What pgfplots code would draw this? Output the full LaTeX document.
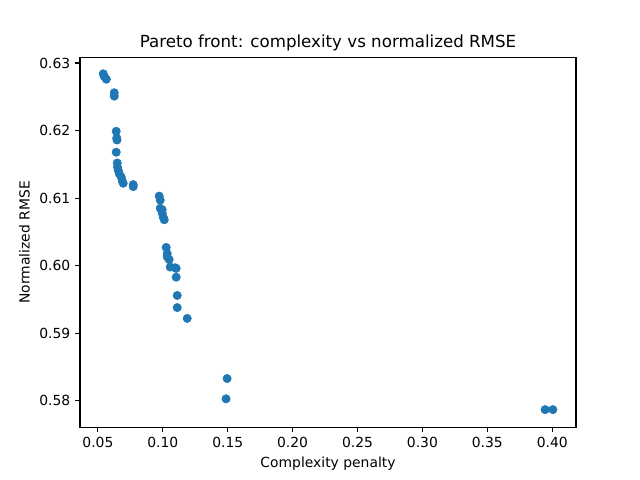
\documentclass[border=0pt]{standalone}
\usepackage{fontspec}
\setmainfont{DejaVu Sans}
\usepackage{pgfplots}
\pgfplotsset{compat=1.18}
\definecolor{mplblue}{HTML}{1F77B4}
\begin{document}
\begin{tikzpicture}
\begin{axis}[
  scale only axis,
  width=357.12pt, height=266.11pt,
  xmin=0.0362, xmax=0.4183,
  ymin=0.5761, ymax=0.6308,
  xtick={0.05,0.10,0.15,0.20,0.25,0.30,0.35,0.40},
  ytick={0.58,0.59,0.60,0.61,0.62,0.63},
  /pgf/number format/assume math mode=true,
  xticklabel style={/pgf/number format/.cd,fixed,fixed zerofill,precision=2},
  yticklabel style={/pgf/number format/.cd,fixed,fixed zerofill,precision=2},
  scaled ticks=false,
  tick align=outside, tick pos=left,
  major tick length=3.5pt,
  every tick/.style={black, line width=0.8pt},
  axis line style={line width=0.8pt},
  tick label style={font=\fontsize{10}{12}\selectfont},
  label style={font=\fontsize{10}{12}\selectfont},
  title style={font=\fontsize{12}{14}\selectfont, yshift=-5pt},
  title={Pareto front: complexity vs normalized RMSE},
  xlabel={Complexity penalty},
  ylabel={Normalized RMSE},
]
\addplot[only marks, mark=*, mark size=3pt, mplblue, mark options={draw=mplblue, fill=mplblue}] coordinates {
(0.0541,0.6284) (0.0549,0.6280) (0.0565,0.6276)
(0.0626,0.6256) (0.0626,0.6251)
(0.0641,0.6199) (0.0645,0.6189) (0.0647,0.6186)
(0.0641,0.6168)
(0.0649,0.6152) (0.0651,0.6146) (0.0657,0.6141) (0.0665,0.6136)
(0.0680,0.6131) (0.0688,0.6125) (0.0695,0.6122)
(0.0772,0.6120) (0.0772,0.6117)
(0.0972,0.6103) (0.0980,0.6097) (0.0980,0.6085) (0.0995,0.6083)
(0.0995,0.6078) (0.1003,0.6072) (0.1011,0.6068)
(0.1026,0.6027) (0.1034,0.6018) (0.1034,0.6013) (0.1049,0.6009)
(0.1057,0.5998) (0.1095,0.5997) (0.1103,0.5996)
(0.1103,0.5983) (0.1111,0.5956) (0.1111,0.5938) (0.1188,0.5922)
(0.1495,0.5833) (0.1487,0.5803)
(0.3945,0.5787) (0.4005,0.5787)
};
\end{axis}
\path (current axis.south west) ++(-57.6pt,-38.02pt) rectangle ++(460.8pt,345.6pt);
\end{tikzpicture}
\end{document}
